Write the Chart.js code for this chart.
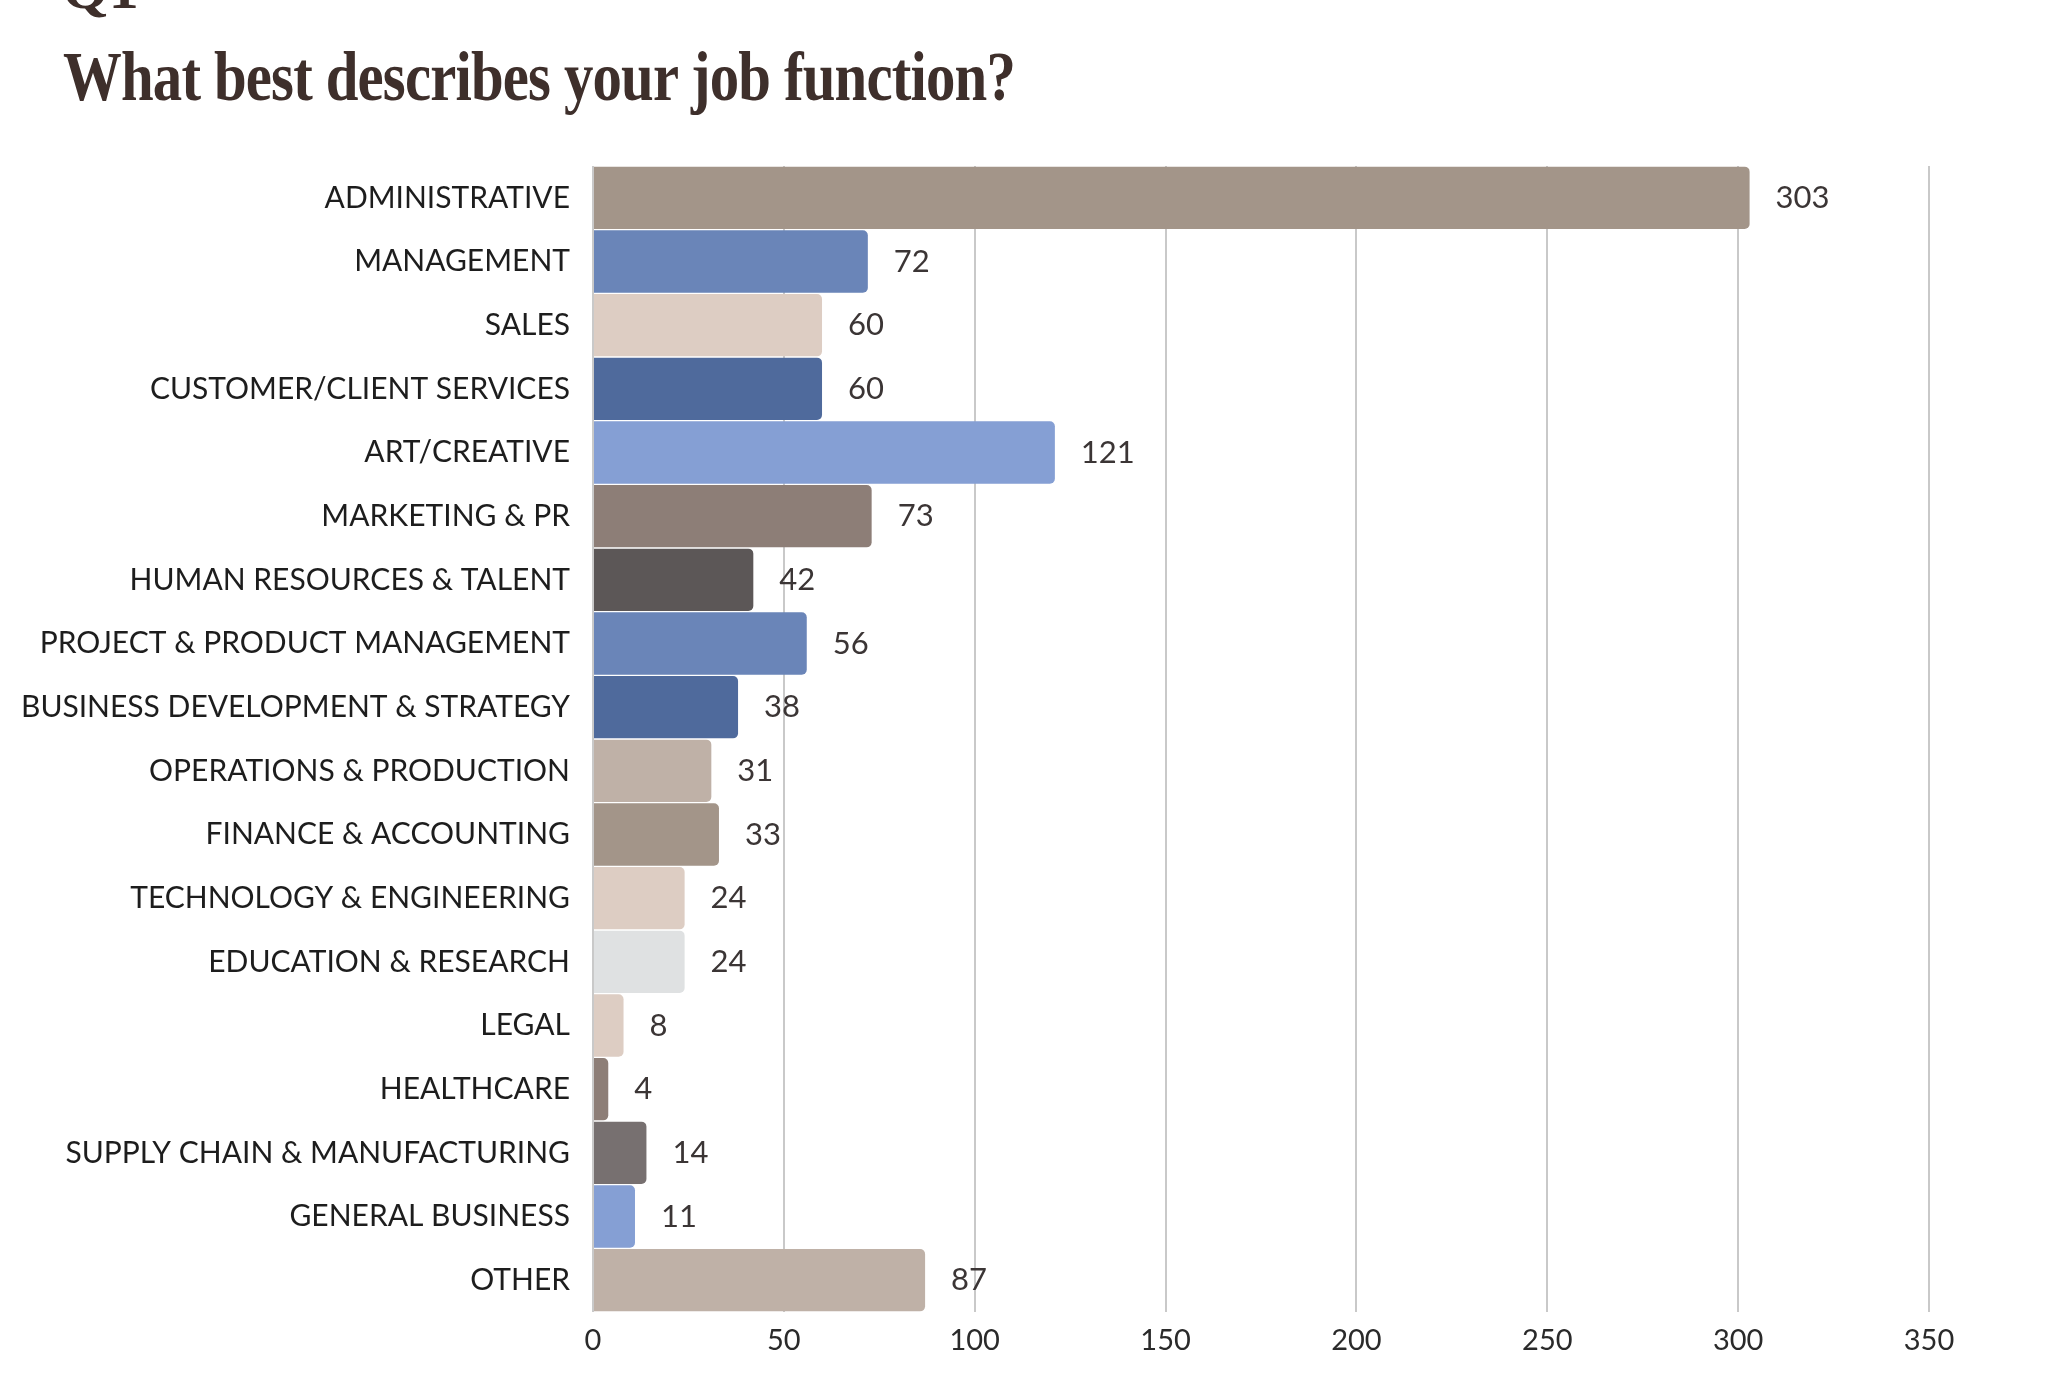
<!DOCTYPE html>
<html>
<head>
<meta charset="utf-8">
<script src="https://cdn.jsdelivr.net/npm/chart.js@4.4.1/dist/chart.umd.min.js"></script>
<style>
  html, body { margin: 0; padding: 0; background: #fff; width: 2063px; height: 1390px; overflow: hidden; }
  #qnum {
    position: absolute; left: 62px; top: -46px; margin: 0;
    font-family: "Liberation Serif", serif; font-weight: bold; font-size: 60px;
    color: #3e2f2b;
  }
  #title {
    position: absolute; left: 63px; top: 37px; margin: 0;
    font-family: "Liberation Serif", serif; font-weight: bold; font-size: 70px;
    color: #3e2f2b; letter-spacing: -1px;
    transform: scaleX(0.84); transform-origin: left top; white-space: nowrap;
  }
  #wrap { position: absolute; left: 0; top: 0; width: 2063px; height: 1390px; }
</style>
</head>
<body>
<div id="qnum">Q1</div>
<h1 id="title">What best describes your job function?</h1>
<div id="wrap"><canvas id="chart"></canvas></div>
<script>
// survey answers, top to bottom
const categories = [
    'ADMINISTRATIVE', 'MANAGEMENT', 'SALES', 'CUSTOMER/CLIENT SERVICES',
    'ART/CREATIVE', 'MARKETING & PR', 'HUMAN RESOURCES & TALENT',
    'PROJECT & PRODUCT MANAGEMENT', 'BUSINESS DEVELOPMENT & STRATEGY',
    'OPERATIONS & PRODUCTION', 'FINANCE & ACCOUNTING', 'TECHNOLOGY & ENGINEERING',
    'EDUCATION & RESEARCH', 'LEGAL', 'HEALTHCARE', 'SUPPLY CHAIN & MANUFACTURING',
    'GENERAL BUSINESS', 'OTHER'
];
const counts = [303, 72, 60, 60, 121, 73, 42, 56, 38, 31, 33, 24, 24, 8, 4, 14, 11, 87];
const xTicks = [0, 50, 100, 150, 200, 250, 300, 350];

const barColors = [
    '#a39589', '#6a85b8', '#ddcdc3', '#4f6a9c', '#859fd4', '#8d7e77',
    '#5c5757', '#6a85b8', '#4f6a9c', '#bfb1a7', '#a39589', '#ddcdc3',
    '#dfe1e2', '#ddcdc3', '#8d7e77', '#777070', '#859fd4', '#bfb1a7'
];

// numbers at the end of each bar
const valueLabels = {
    id: 'valueLabels',
    afterDatasetsDraw(chart) {
        const ctx = chart.ctx;
        const meta = chart.getDatasetMeta(0);
        ctx.save();
        ctx.font = '31px Lato';
        ctx.fillStyle = '#3b3535';
        ctx.textAlign = 'left';
        ctx.textBaseline = 'middle';
        meta.data.forEach((bar, i) => {
            ctx.fillText(String(counts[i]), bar.x + 26, bar.y);
        });
        ctx.restore();
    }
};

new Chart(document.getElementById('chart'), {
    type: 'bar',
    data: {
        labels: categories,
        datasets: [{
            data: counts,
            backgroundColor: barColors,
            borderRadius: 5,
            borderSkipped: 'start',
            barPercentage: 0.98,
            categoryPercentage: 1.0
        }]
    },
    options: {
        indexAxis: 'y',
        responsive: true,
        maintainAspectRatio: false,
        animation: false,
        layout: { padding: { top: 166, right: 134, bottom: 0, left: 0 } },
        plugins: {
            legend: { display: false },
            tooltip: { enabled: false }
        },
        scales: {
            x: {
                min: 0,
                max: 350,
                afterBuildTicks: axis => { axis.ticks = xTicks.map(v => ({ value: v })); },
                afterFit: axis => { axis.height = 78; },
                grid: { color: '#c9c9c9', lineWidth: 2, drawTicks: false },
                border: { display: false },
                ticks: {
                    padding: 11,
                    color: '#2a2a2a',
                    font: { family: 'Lato', size: 29 }
                }
            },
            y: {
                afterFit: axis => { axis.width = 593; },
                grid: { display: false, drawTicks: false },
                border: { display: false },
                ticks: {
                    padding: 23,
                    color: '#1d1d1d',
                    font: { family: 'Lato', size: 30 }
                }
            }
        }
    },
    plugins: [valueLabels]
});
</script>
</body>
</html>
